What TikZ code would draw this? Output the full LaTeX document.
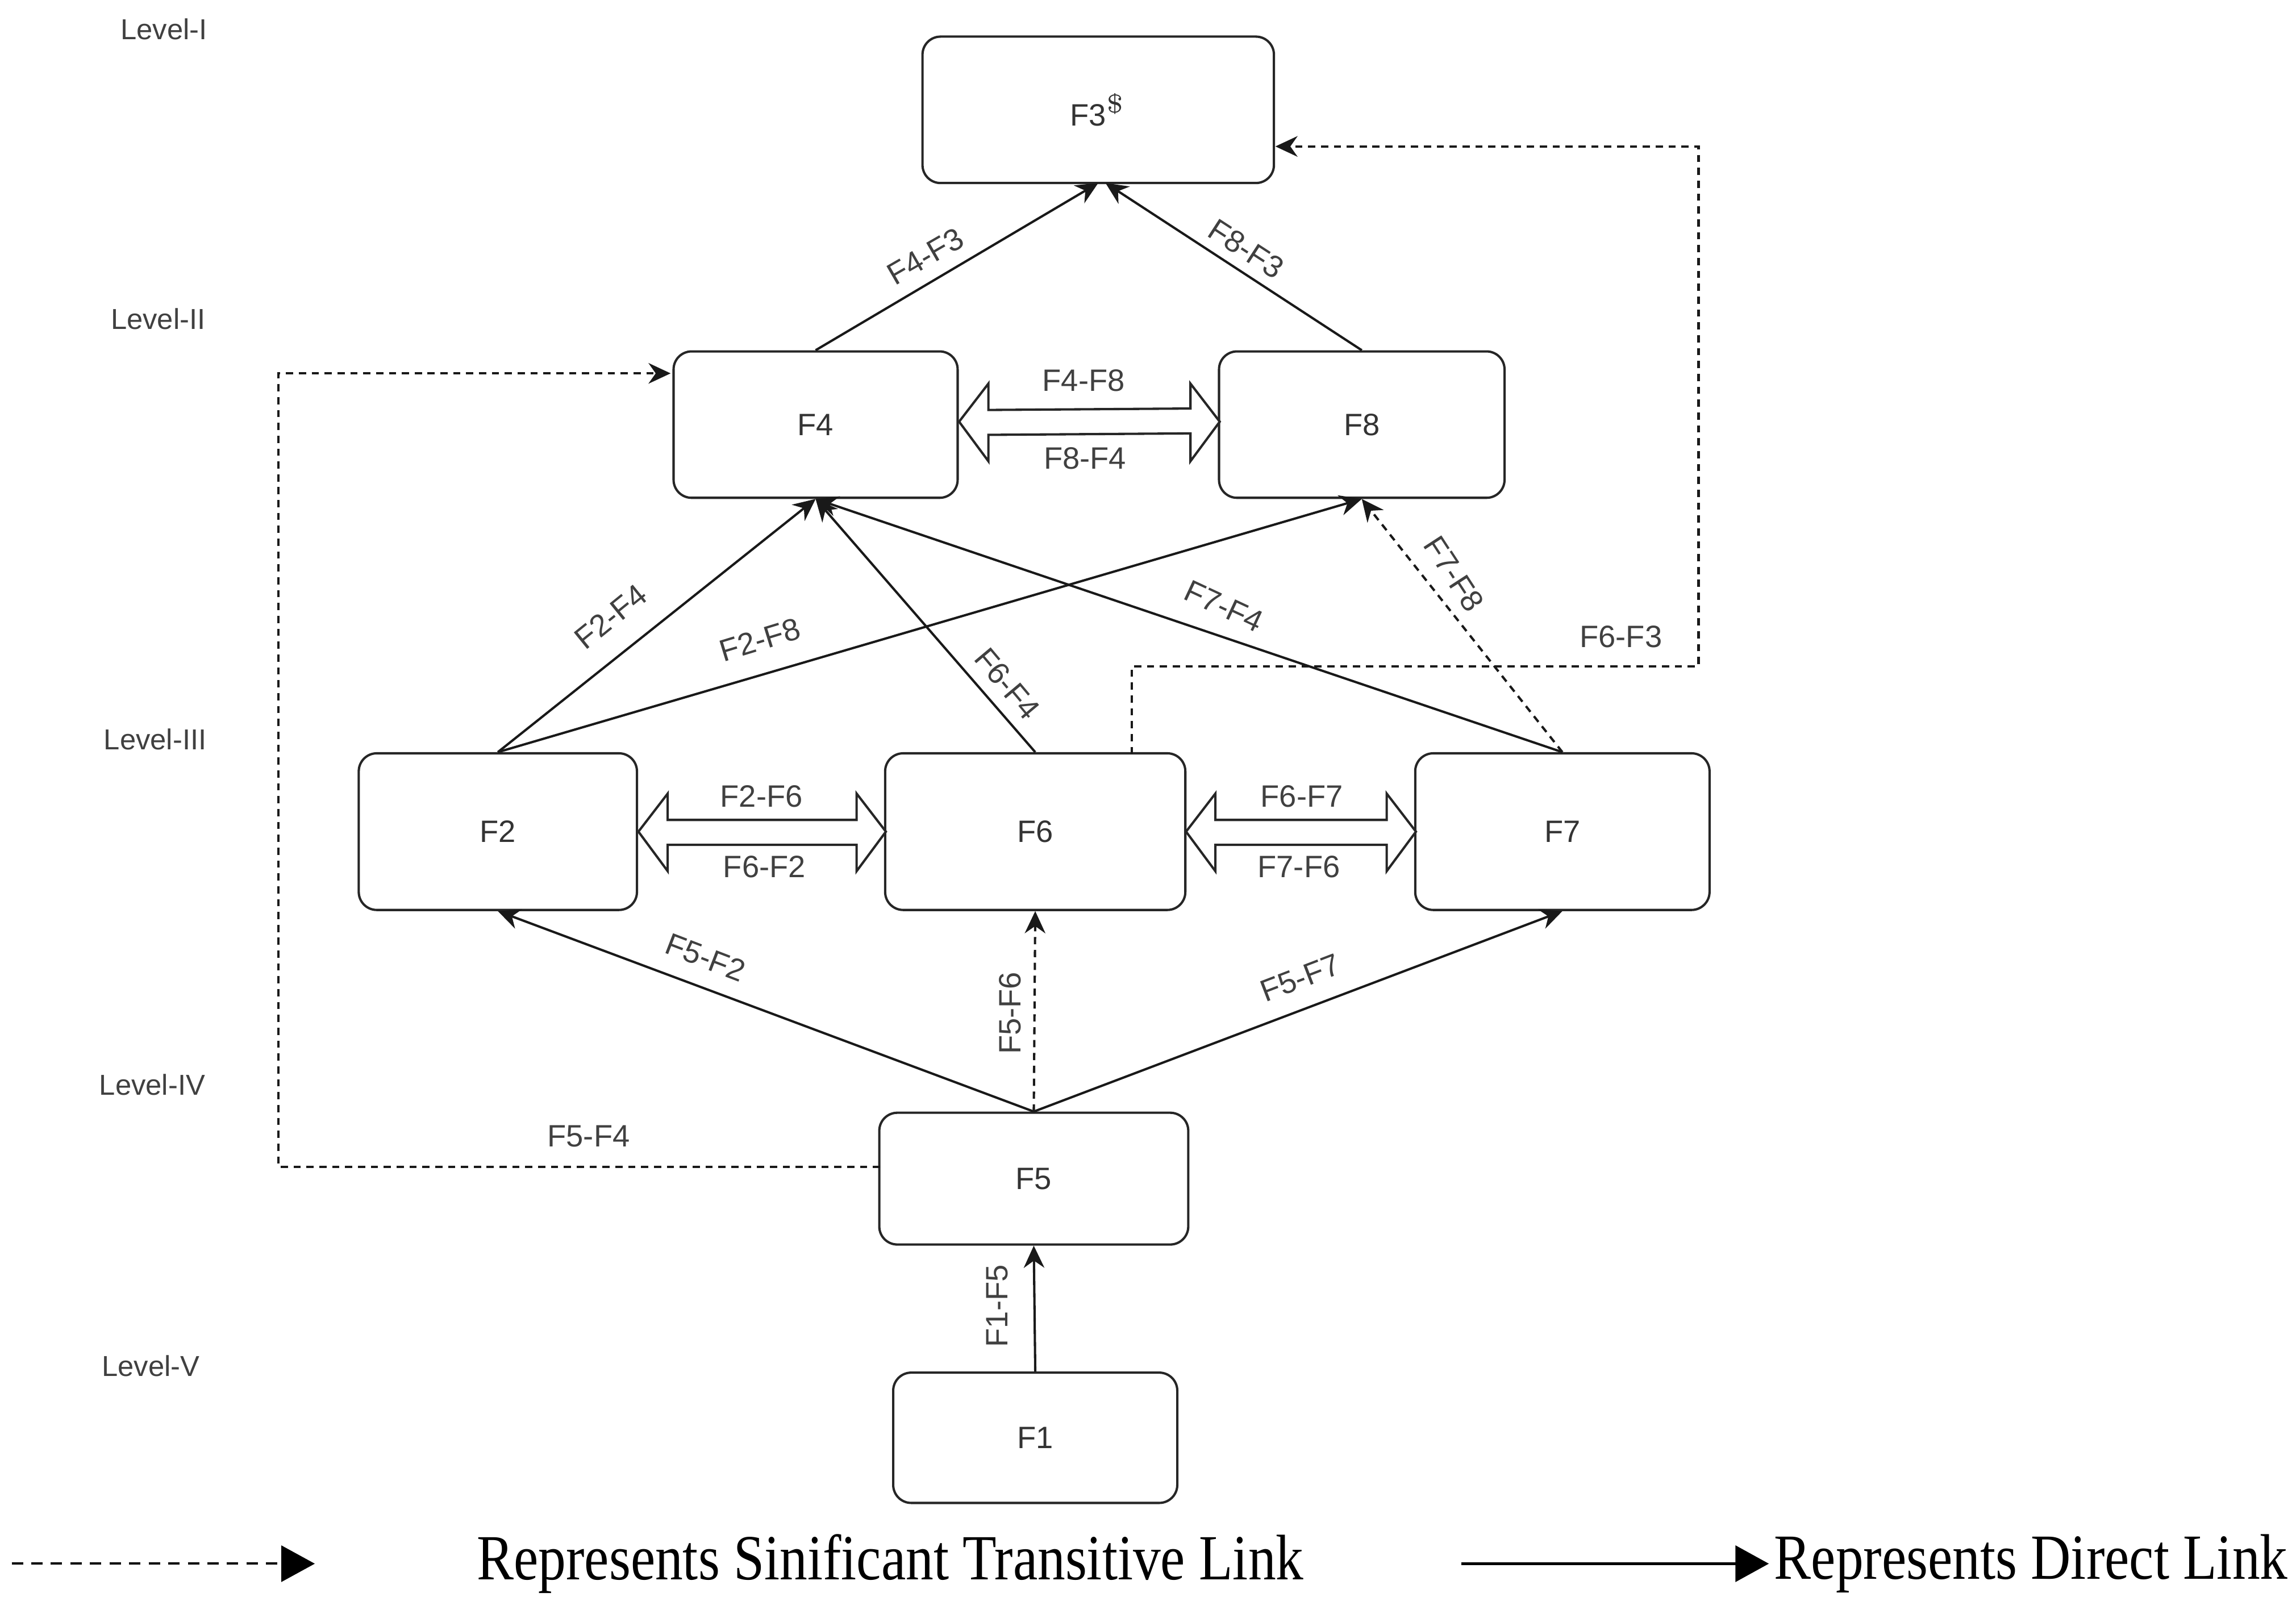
\documentclass[tikz,border=0pt]{standalone}
\usepackage{fontspec}
\setmainfont{Liberation Serif}
\newfontfamily\lsans{Liberation Sans}
\usetikzlibrary{arrows.meta}
\begin{document}
\begin{tikzpicture}[x=0.01cm,y=-0.01cm,
 box/.style={draw=black!85,line width=0.45pt,rounded corners=3.5pt,font=\lsans\fontsize{6}{7}\selectfont,text=black!80},
 lab/.style={font=\lsans\fontsize{6}{7}\selectfont,text=black!75,inner sep=0.5pt},
 lvl/.style={font=\lsans\fontsize{5.6}{7}\selectfont,text=black!75},
 arr/.style={draw=black!90,line width=0.45pt,-{Stealth[length=4.3pt,width=4pt]}},
 dsh/.style={arr,dash pattern=on 1.4pt off 1.1pt},
 hol/.style={draw=black!85,line width=0.45pt,fill=white,line join=miter}]
\useasboundingbox (0,0) rectangle (1568,1102);
\node[box,minimum width=240*0.01cm,minimum height=100*0.01cm] (F3) at (750,75) {F3$^{\mathsf{\$}}$};
\node[box,minimum width=194*0.01cm,minimum height=100*0.01cm] (F4) at (557,290) {F4};
\node[box,minimum width=195*0.01cm,minimum height=100*0.01cm] (F8) at (930,290) {F8};
\node[box,minimum width=190*0.01cm,minimum height=107*0.01cm] (F2) at (340,568) {F2};
\node[box,minimum width=205*0.01cm,minimum height=107*0.01cm] (F6) at (707,568) {F6};
\node[box,minimum width=201*0.01cm,minimum height=107*0.01cm] (F7) at (1067,568) {F7};
\node[box,minimum width=211*0.01cm,minimum height=90*0.01cm] (F5) at (706,805) {F5};
\node[box,minimum width=194*0.01cm,minimum height=89*0.01cm] (F1) at (707,982) {F1};
% level labels
\node[lvl] (L1) at (112,20) {Level-I};
\node[lvl] (L2) at (108,218) {Level-II};
\node[lvl] (L3) at (106,505) {Level-III};
\node[lvl] (L4) at (104,741) {Level-IV};
\node[lvl] (L5) at (103,933) {Level-V};
% direct arrows
\draw[arr] (F4.north) -- (750,125);
\draw[arr] (F8.north) -- (755,125);
\draw[arr] (F2.north) -- (F4.south);
\draw[arr] (F2.north) -- (F8.south);
\draw[arr] (F6.north) -- (F4.south);
\draw[arr] (F7.north) -- (F4.south);
\draw[dsh] (F7.north) -- (F8.south);
\draw[arr] (F5.north) -- (F2.south);
\draw[arr] (F5.north) -- (F7.south);
\draw[dsh] (F5.north) -- (F6.south);
\draw[arr] (F1.north) -- (F5.south);
\coordinate (a6) at (773,515);
\draw[dsh] (a6) -- (773,455) -- (1160,455) -- (1160,100) -- (871,100);
\coordinate (a5) at (601,797);
\draw[dsh] (a5) -- (190,797) -- (190,255) -- (458,255);
% hollow double arrows
\draw[hol] (655,288) -- (675,262) -- (675,280) -- (813,279) -- (813,262) -- (833,288) -- (813,315) -- (813,296) -- (675,297) -- (675,315) -- cycle;
\draw[hol] (436,568) -- (456,542) -- (456,560) -- (585,560) -- (585,542) -- (605,568) -- (585,595) -- (585,577) -- (456,577) -- (456,595) -- cycle;
\draw[hol] (810,568) -- (830,542) -- (830,560) -- (947,560) -- (947,542) -- (967,568) -- (947,595) -- (947,577) -- (830,577) -- (830,595) -- cycle;
% labels
\node[lab,rotate=30] at (632,175) {F4-F3};
\node[lab,rotate=-33] at (851,170) {F8-F3};
\node[lab] at (740,260) {F4-F8};
\node[lab] at (741,313) {F8-F4};
\node[lab,rotate=39] at (417,421) {F2-F4};
\node[lab,rotate=17] at (519,437) {F2-F8};
\node[lab,rotate=-50] at (688,467) {F6-F4};
\node[lab,rotate=-25] at (836,414) {F7-F4};
\node[lab,rotate=-57] at (993,392) {F7-F8};
\node[lab] at (1107,435) {F6-F3};
\node[lab] at (520,544) {F2-F6};
\node[lab] at (522,592) {F6-F2};
\node[lab] at (889,544) {F6-F7};
\node[lab] at (887,592) {F7-F6};
\node[lab,rotate=-21] at (482,654) {F5-F2};
\node[lab,rotate=90] at (690,692) {F5-F6};
\node[lab,rotate=21] at (888,668) {F5-F7};
\node[lab] at (402,776) {F5-F4};
\node[lab,rotate=90] at (681,892) {F1-F5};
% legend
\coordinate (d1) at (8,1068); \coordinate (d2) at (215,1068);
\draw[line width=0.45pt,dash pattern=on 2.2pt off 1.6pt,-{Triangle[length=6.5pt,width=7pt]}] (d1) -- (d2);
\coordinate (s1) at (998,1068); \coordinate (s2) at (1208,1068);
\draw[line width=0.6pt,-{Triangle[length=6.5pt,width=7pt]}] (s1) -- (s2);
\node[font=\fontsize{12.5}{14}\selectfont,inner sep=0] at (608,1068) {\scalebox{0.86}[1]{Represents Sinificant Transitive Link}};
\node[font=\fontsize{12.5}{14}\selectfont,inner sep=0,anchor=west] at (1211,1068) {\scalebox{0.86}[1]{Represents Direct Link}};
\end{tikzpicture}
\end{document}
